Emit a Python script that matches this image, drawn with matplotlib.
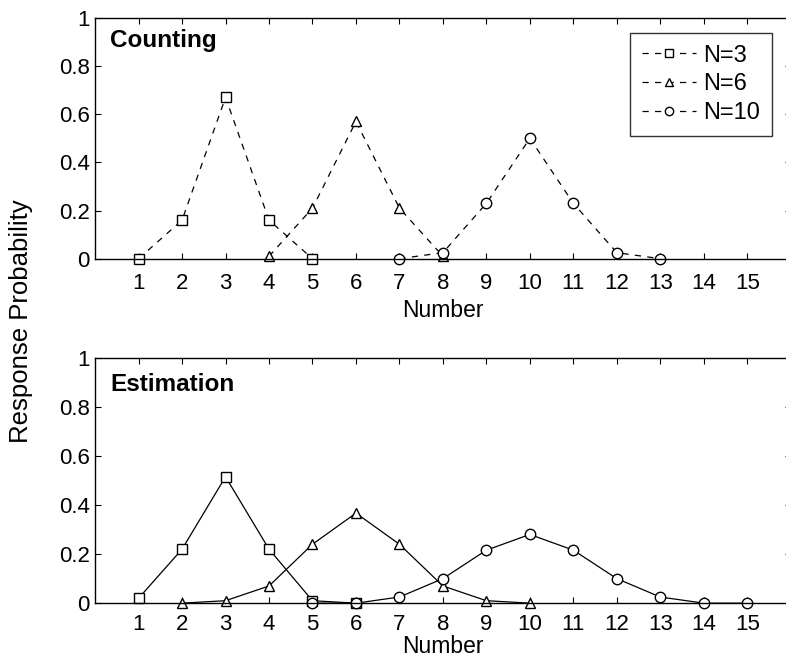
import matplotlib
matplotlib.use('Agg')
import matplotlib.pyplot as plt

plt.rcParams.update({
    'font.family': ['Liberation Sans', 'DejaVu Sans'],
    'xtick.direction': 'in',
    'ytick.direction': 'in',
    'xtick.top': True,
    'ytick.right': True,
})

# Counting panel
count_x3 = [1, 2, 3, 4, 5]
count_y3 = [0.0, 0.16, 0.67, 0.16, 0.0]
count_x6 = [4, 5, 6, 7, 8]
count_y6 = [0.01, 0.21, 0.57, 0.21, 0.01]
count_x10 = [7, 8, 9, 10, 11, 12, 13]
count_y10 = [0.0, 0.025, 0.23, 0.50, 0.23, 0.025, 0.0]

# Estimation panel
est_x3 = [1, 2, 3, 4, 5, 6]
est_y3 = [0.02, 0.22, 0.515, 0.22, 0.01, 0.0]
est_x6 = [2, 3, 4, 5, 6, 7, 8, 9, 10]
est_y6 = [0.0, 0.01, 0.07, 0.24, 0.367, 0.24, 0.07, 0.01, 0.0]
est_x10 = [5, 6, 7, 8, 9, 10, 11, 12, 13, 14, 15]
est_y10 = [0.0, 0.0, 0.025, 0.10, 0.216, 0.28, 0.216, 0.10, 0.025, 0.0, 0.0]

labels = ['N=3', 'N=6', 'N=10']
markers = ['s', '^', 'o']
xticks = list(range(1, 16))
yticks = [0, 0.2, 0.4, 0.6, 0.8, 1]
ytick_labels = ['0', '0.2', '0.4', '0.6', '0.8', '1']

fig = plt.figure(figsize=(7.86, 6.65), dpi=100)
ax1 = fig.add_axes([0.121, 0.611, 0.885, 0.362])
ax2 = fig.add_axes([0.121, 0.093, 0.885, 0.369])

count_data = [(count_x3, count_y3), (count_x6, count_y6), (count_x10, count_y10)]
est_data = [(est_x3, est_y3), (est_x6, est_y6), (est_x10, est_y10)]

for (x, y), m, lab in zip(count_data, markers, labels):
    ax1.plot(x, y, color='black', lw=0.9, linestyle=(0, (5, 5)), marker=m,
             markersize=7.5, markerfacecolor='white', markeredgecolor='black',
             markeredgewidth=1.0, label=lab, clip_on=False)

for (x, y), m in zip(est_data, markers):
    ax2.plot(x, y, color='black', lw=0.9, linestyle='-', marker=m,
             markersize=7.5, markerfacecolor='white', markeredgecolor='black',
             markeredgewidth=1.0, clip_on=False)

for ax in (ax1, ax2):
    ax.set_xlim(0, 16)
    ax.set_ylim(0, 1)
    ax.set_xticks(xticks)
    ax.set_xticklabels([str(t) for t in xticks], fontsize=16)
    ax.set_yticks(yticks)
    ax.set_yticklabels(ytick_labels, fontsize=16)
    ax.tick_params(length=4, width=0.8)
    ax.tick_params(axis='y', pad=4)
    for s in ax.spines.values():
        s.set_linewidth(1.0)

ax1.tick_params(axis='x', pad=10)
ax2.tick_params(axis='x', pad=8)
ax1.set_xlabel('Number', fontsize=16.5, labelpad=4)
ax2.set_xlabel('Number', fontsize=16.5, labelpad=0)

ax1.text(0.0216, 0.905, 'Counting', transform=ax1.transAxes, fontsize=17.5,
         fontweight='bold', va='center', ha='left')
ax2.text(0.0216, 0.89, 'Estimation', transform=ax2.transAxes, fontsize=17.5,
         fontweight='bold', va='center', ha='left')

leg = ax1.legend(loc='upper right', bbox_to_anchor=(0.973, 0.938), fontsize=17,
                 frameon=True, fancybox=False, handlelength=2.3,
                 handletextpad=0.3, borderpad=0.5, labelspacing=0.28,
                 borderaxespad=0)
leg.get_frame().set_edgecolor('black')
leg.get_frame().set_linewidth(1.0)
for h in leg.legend_handles:
    h.set_markersize(6)

fig.text(0.027, 0.517, 'Response Probability', rotation=90, fontsize=18.5,
         ha='center', va='center')

fig.savefig('out.png', dpi=100, facecolor='white')
plt.close()
